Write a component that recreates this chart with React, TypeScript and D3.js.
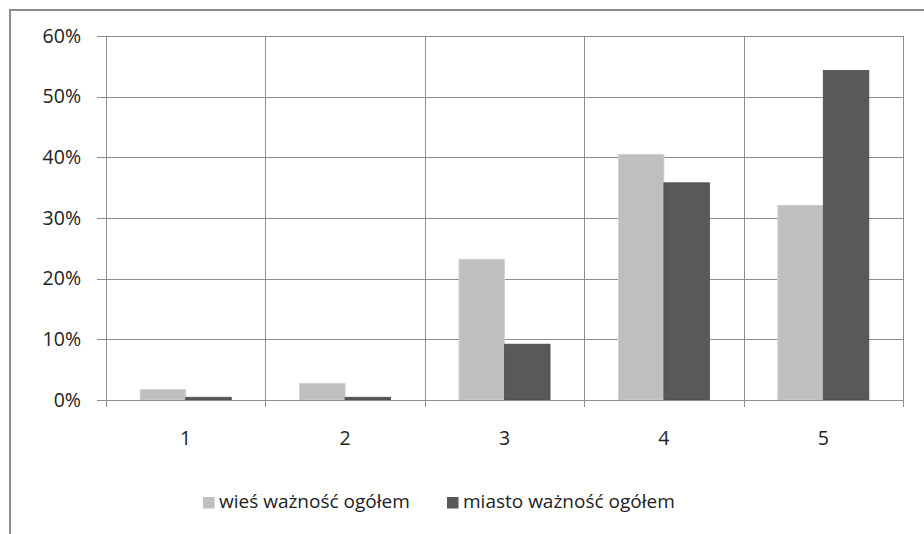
import { useEffect, useRef } from "react";
import * as d3 from "d3";

// categories (ratings 1..5) and series shares
const categories = ["1", "2", "3", "4", "5"];
const seriesNames = ["wieś ważność ogółem", "miasto ważność ogółem"];
const wiesValues = [0.0175, 0.0275, 0.232, 0.405, 0.321];
const miastoValues = [0.0045, 0.0045, 0.092, 0.358, 0.543];
const yTicks = [0, 0.1, 0.2, 0.3, 0.4, 0.5, 0.6];
const colors = ["#bfbfbf", "#595959"];

const App: React.FC = () => {
    const svgRef = useRef<SVGSVGElement>(null);

    useEffect(() => {
        const svg = d3.select(svgRef.current);
        svg.selectAll("*").remove();
        const font = "'Open Sans', sans-serif";

        // plot area
        const left = 106;
        const right = 903;
        const top = 36;
        const bottom = 400;

        // outer frame of the chart (cropped on right/bottom)
        svg.append("rect")
            .attr("x", 10)
            .attr("y", 10)
            .attr("width", 1000)
            .attr("height", 1000)
            .attr("fill", "#fff")
            .attr("stroke", "#8c8c8c")
            .attr("stroke-width", 2);

        const x = d3.scaleBand().domain(categories).range([left, right]);
        const y = d3.scaleLinear().domain([0, 0.6]).range([bottom, top]);

        const inner = d3.scaleBand()
            .domain(["0", "1"])
            .range([0, x.bandwidth()])
            .paddingInner(0)
            .paddingOuter(0.75);

        const g = svg.append("g");

        // horizontal gridlines + y ticks
        g.selectAll("line.hgrid")
            .data(yTicks)
            .enter()
            .append("line")
            .attr("x1", left - 9)
            .attr("x2", right)
            .attr("y1", d => Math.round(y(d)) + 0.5)
            .attr("y2", d => Math.round(y(d)) + 0.5)
            .attr("stroke", "#8e8e8e")
            .attr("stroke-width", 1);

        // vertical category dividers
        const dividers = [left, ...categories.map(c => (x(c) as number) + x.bandwidth())];
        g.selectAll("line.vgrid")
            .data(dividers)
            .enter()
            .append("line")
            .attr("x1", d => Math.round(d) + 0.5)
            .attr("x2", d => Math.round(d) + 0.5)
            .attr("y1", top)
            .attr("y2", bottom + 7)
            .attr("stroke", "#8e8e8e")
            .attr("stroke-width", 1);

        // bars
        const series = [wiesValues, miastoValues];
        series.forEach((vals, si) => {
            g.selectAll("rect.s" + si)
                .data(vals)
                .enter()
                .append("rect")
                .attr("x", (d, i) => (x(categories[i]) as number) + (inner(String(si)) as number))
                .attr("y", d => y(d))
                .attr("width", inner.bandwidth())
                .attr("height", d => bottom - y(d))
                .attr("fill", colors[si])
                .attr("stroke", si === 0 ? "#d0d0d0" : "#4a4a4a")
                .attr("stroke-width", 0.8);
        });

        // x axis line over bars
        g.append("line")
            .attr("x1", left - 9)
            .attr("x2", right)
            .attr("y1", bottom + 0.5)
            .attr("y2", bottom + 0.5)
            .attr("stroke", "#8e8e8e");

        // y labels
        g.selectAll("text.ylab")
            .data(yTicks)
            .enter()
            .append("text")
            .attr("x", 81)
            .attr("y", d => y(d))
            .attr("dy", "0.35em")
            .attr("text-anchor", "end")
            .attr("font-family", font)
            .attr("font-size", 19.5)
            .attr("fill", "#222")
            .text(d => d3.format(".0%")(d));

        // x labels
        g.selectAll("text.xlab")
            .data(categories)
            .enter()
            .append("text")
            .attr("x", d => (x(d) as number) + x.bandwidth() / 2)
            .attr("y", 438)
            .attr("dy", "0.35em")
            .attr("text-anchor", "middle")
            .attr("font-family", font)
            .attr("font-size", 19.5)
            .attr("fill", "#222")
            .text(d => d);

        // legend
        const legendX = [203, 447];
        seriesNames.forEach((name, i) => {
            svg.append("rect")
                .attr("x", legendX[i])
                .attr("y", 497)
                .attr("width", 11.5)
                .attr("height", 11.5)
                .attr("fill", colors[i]);
            svg.append("text")
                .attr("x", legendX[i] + 16)
                .attr("y", 501)
                .attr("dy", "0.35em")
                .attr("font-family", font)
                .attr("font-size", 19)
                .attr("fill", "#222")
                .text(name);
        });
    }, []);

    return (
        <svg
            ref={svgRef}
            width={924}
            height={534}
            style={{ position: "absolute", left: 0, top: 0, background: "#fff" }}
        ></svg>
    );
};

export default App;
